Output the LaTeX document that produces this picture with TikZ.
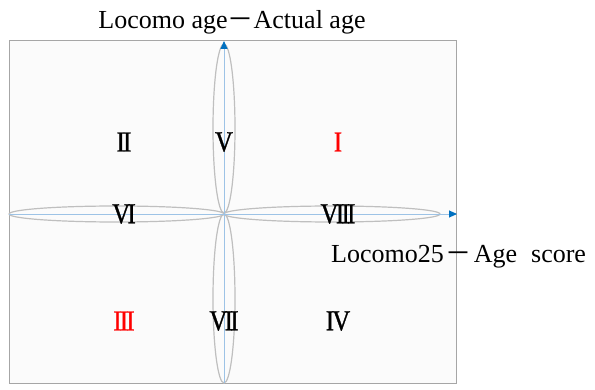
\documentclass[tikz,border=0pt]{standalone}
\usepackage{fontspec}
\setmainfont{Liberation Serif}
\newfontfamily\cjk{Noto Sans CJK SC}
\newfontfamily\numfont[FakeBold=1.2]{Liberation Serif}
\usetikzlibrary{arrows.meta}
\definecolor{axisblue}{HTML}{9DC3E6}
\definecolor{tipblue}{HTML}{0070C0}
\definecolor{petalgray}{HTML}{BFBFBF}
\definecolor{framegray}{HTML}{A6A6A6}
\newcommand{\rn}[1]{\scalebox{0.85}[1]{\fontsize{29}{32}\numfont #1}}
\tikzset{
  axis/.style={draw=axisblue, line width=0.9pt, -{Triangle[length=8pt, width=7pt, fill=tipblue, color=tipblue]}},
  petal/.style={draw=petalgray, line width=1.2pt},
  zone/.style={inner sep=0pt, anchor=center},
  title/.style={inner sep=0pt, font=\fontsize{26}{30}\selectfont}
}
\begin{document}
\begin{tikzpicture}[x=1pt,y=-1pt]
\useasboundingbox (0,0) rectangle (595,390);
\draw[framegray, fill={rgb,255:red,251;green,251;blue,251}, line width=1pt] (9,41) rectangle (456,383);
% petals
\draw[petal] (224,128.5) ellipse [x radius=11, y radius=84.5];
\draw[petal] (224,298.5) ellipse [x radius=11, y radius=84.5];
\draw[petal] (116.5,214) ellipse [x radius=107.5, y radius=8];
\draw[petal] (332,214) ellipse [x radius=108, y radius=8];
% axes
\coordinate (bot) at (224,383);
\coordinate (top) at (224,41);
\coordinate (lft) at (9,214);
\coordinate (rgt) at (457,214);
\draw[axis] (bot) -- (top);
\draw[axis] (lft) -- (rgt);
% zones
\node[zone] (z2) at (124,142) {\rn{I\kern-2pt I}};
\node[zone] (z5) at (224,142) {\rn{V}};
\node[zone, text=red] (z1) at (338,142) {\rn{I}};
\node[zone] (z6) at (124,214) {\rn{V\kern-3pt I}};
\node[zone] (z8) at (338,214) {\rn{V\kern-3pt I\kern-3pt I\kern-3pt I}};
\node[zone, text=red] (z3) at (124,321) {\rn{I\kern-2pt I\kern-2pt I}};
\node[zone] (z7) at (224,321) {\rn{V\kern-3pt I\kern-3pt I}};
\node[zone] (z4) at (338,321) {\rn{I\kern-2pt V}};
% axis titles
\node[title, anchor=base] (ytitle) at (232,29) {Locomo age{\cjk －}Actual age};
\node[title, anchor=base west] (xtitle) at (331,263) {Locomo25{\kern2pt\cjk －\kern2pt}Age\hspace{14pt}score};
\end{tikzpicture}
\end{document}
